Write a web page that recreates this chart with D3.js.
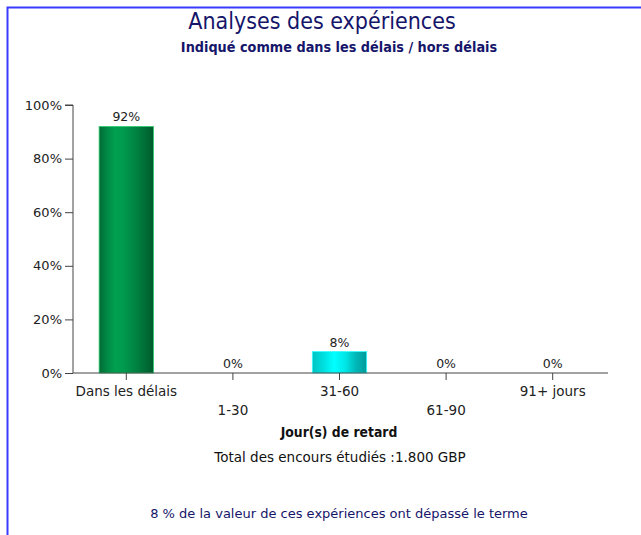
<!DOCTYPE html>
<html><head><meta charset="utf-8">
<script src="https://cdn.jsdelivr.net/npm/d3@7"></script>
<style>
html,body{margin:0;padding:0;background:#fff;}
svg{display:block;}
</style></head>
<body>
<svg id="chart" width="641" height="535"></svg>
<script>
const categories = ["Dans les délais", "1-30", "31-60", "61-90", "91+ jours"];
const values = [92, 0, 8, 0, 0];
const valueLabels = ["92%", "0%", "8%", "0%", "0%"];
const yTicks = [0, 20, 40, 60, 80, 100];
const title = "Analyses des expériences";
const subtitle = "Indiqué comme dans les délais / hors délais";
const xTitle = "Jour(s) de retard";
const totalText = "Total des encours étudiés :1.800 GBP";
const footer = "8 % de la valeur de ces expériences ont dépassé le terme";

const svg = d3.select("#chart");
const W = 641, H = 535;
const margin = {left: 73, right: 35, top: 105, bottom: 162};
const navy = "#15156a";
const font = "'DejaVu Sans', sans-serif";
const fontC = "'DejaVu Sans Condensed', 'DejaVu Sans', sans-serif";

// frame
svg.append("path").attr("d", `M7.5,${H} L7.5,7.5 L${W},7.5`)
  .attr("fill", "none").attr("stroke", "#3a3aff").attr("stroke-width", 2);

const x = d3.scaleBand().domain(categories).range([margin.left, W - margin.right]).paddingInner(0.49).paddingOuter(0.245);
const y = d3.scaleLinear().domain([0, 100]).range([H - margin.bottom, margin.top]);

const defs = svg.append("defs");
function grad(id, stops) {
  const g = defs.append("linearGradient").attr("id", id).attr("x1", "0").attr("x2", "1").attr("y1", "0").attr("y2", "0");
  stops.forEach(s => g.append("stop").attr("offset", s[0]).attr("stop-color", s[1]));
}
grad("gGreen", [[0, "#006b35"], [0.15, "#008a45"], [0.3, "#00a050"], [0.45, "#009a4e"], [0.7, "#008040"], [1, "#005a2c"]]);
grad("gCyan", [[0, "#00c4c4"], [0.2, "#00dede"], [0.4, "#00ffff"], [0.6, "#00e8e8"], [0.8, "#00b8b8"], [1, "#009a9a"]]);
const fills = ["url(#gGreen)", "url(#gCyan)", "url(#gCyan)", "url(#gCyan)", "url(#gCyan)"];
const strokes = ["#2fcf70", "#33ffff", "#33ffff", "#33ffff", "#33ffff"];

const barData = values.map((v, i) => ({cat: categories[i], v, i})).filter(d => d.v > 0);

// bars
svg.append("g").selectAll("rect").data(barData).join("rect")
  .attr("x", d => x(d.cat))
  .attr("y", d => y(d.v))
  .attr("width", x.bandwidth())
  .attr("height", d => y(0) - y(d.v))
  .attr("fill", d => fills[d.i])
  .attr("stroke", d => strokes[d.i])
  .attr("stroke-width", 0.8);

// value labels
svg.append("g").selectAll("text").data(values).join("text")
  .attr("x", (d, i) => x(categories[i]) + x.bandwidth() / 2)
  .attr("y", d => y(d) - 5)
  .attr("text-anchor", "middle")
  .attr("font-family", font).attr("font-size", 12.5).attr("fill", "#222")
  .text((d, i) => valueLabels[i]);

// y axis
const yAxis = d3.axisLeft(y).tickValues(yTicks).tickFormat(d => d + "%").tickSize(8).tickPadding(3);
const gy = svg.append("g").attr("transform", `translate(${margin.left},0)`).call(yAxis);
gy.select(".domain").attr("stroke", "#444").attr("d", `M-8,${y(100)}H0V${y(0)}`);
gy.selectAll(".tick line").attr("stroke", "#444");
gy.selectAll("text").attr("font-family", font).attr("font-size", 13).attr("fill", "#222");

// x axis
const xAxis = d3.axisBottom(x).tickSize(7).tickPadding(6);
const gx = svg.append("g").attr("transform", `translate(0,${y(0)})`).call(xAxis);
gx.select(".domain").attr("stroke", "#444").attr("d", `M${margin.left},0H${W - margin.right + 2}`);
gx.selectAll(".tick line").attr("stroke", "#444");
gx.selectAll("text").attr("font-family", font).attr("font-size", 13.5).attr("fill", "#222")
  .attr("dy", (d, i) => i % 2 ? "2.15em" : "0.71em");

// titles
svg.append("text").attr("x", 322).attr("y", 29).attr("text-anchor", "middle")
  .attr("font-family", fontC).attr("font-size", 23).attr("fill", navy).text(title);
svg.append("text").attr("x", 339).attr("y", 52).attr("text-anchor", "middle")
  .attr("font-family", fontC).attr("font-weight", "bold").attr("font-size", 14.3).attr("fill", navy).text(subtitle);

svg.append("text").attr("x", 339).attr("y", 437).attr("text-anchor", "middle")
  .attr("font-family", fontC).attr("font-weight", "bold").attr("font-size", 13.8).attr("fill", "#111").text(xTitle);
svg.append("text").attr("x", 340).attr("y", 462).attr("text-anchor", "middle")
  .attr("font-family", font).attr("font-size", 13.5).attr("fill", "#111").text(totalText);
svg.append("text").attr("x", 339).attr("y", 518).attr("text-anchor", "middle")
  .attr("font-family", font).attr("font-size", 13).attr("fill", navy).text(footer);
</script>
</body></html>
